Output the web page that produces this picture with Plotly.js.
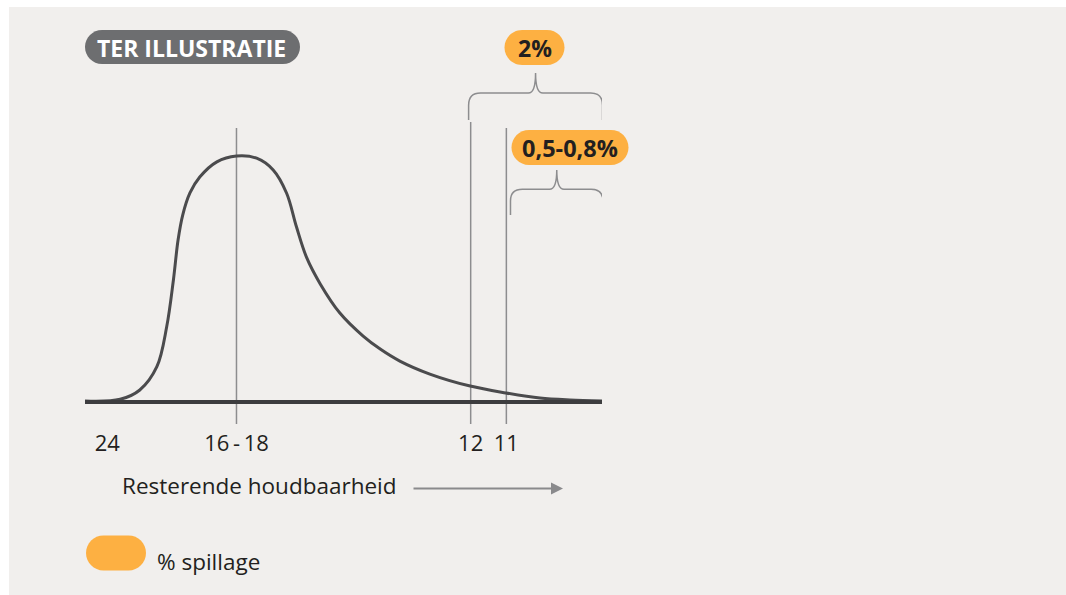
<!DOCTYPE html>
<html>
<head>
<meta charset="utf-8">
<script src="https://cdn.plot.ly/plotly-3.0.1.min.js"></script>
<style>html,body{margin:0;padding:0;background:#fff;}#chart{width:1066px;height:595px;}</style>
</head>
<body>
<div id="chart"></div>
<script>
// ---- data (illustrative distribution of remaining shelf life) ----
const curveX = [0, 6.8, 10.6, 13.9, 15.8, 17.1, 18.0, 18.9, 20.3, 22.2, 25.5, 29.3, 33.2, 36.4, 39.0, 40.9, 42.9, 45.5, 49.3, 53.8, 57.1, 60.9, 66.7, 74.5, 81.4, 88.0, 93.8, 100];
const curveY = [0, 0.7, 4.5, 14.0, 30.3, 49.4, 65.7, 75.9, 84.9, 91.4, 97.6, 100, 99.1, 94.3, 84.8, 71.1, 58.4, 47.8, 35.9, 26.5, 21.2, 16.3, 11.0, 6.1, 3.3, 1.2, 0.4, 0];
const tickPositions = [4.3, 29.3, 74.6, 81.5];
const tickLabels = ['24', '16\u2009-\u200918', '12', '11'];
const markerX = [29.3, 74.6, 81.5];
const markerTop = [111.4, 113.9, 111.4];
const spillageLabels = ['2%', '0,5-0,8%'];
const braceFrom = [74.2, 82.3];
const braceTo = [100.1, 100.2];
const titleText = 'TER ILLUSTRATIE';
const axisLabel = 'Resterende houdbaarheid';
const legendLabel = '% spillage';

// ---- layout helpers ----
const W = 1066, H = 595, L = 85, R = 464, T = 30, B = 35;
const PW = W - L - R, PH = H - T - B;
const px = p => (p - L) / PW;          // pixel x -> paper
const py = p => (H - B - p) / PH;      // pixel y -> paper

const ORANGE = '#fdb042', GREY = '#6d6e70', LINE = '#8d8d8f', TXT = '#231f20';
const FONT = '"Open Sans", "Noto Sans", sans-serif';

function pill(cxPx, cyPx, w, h, color) {
  const r = h / 2, k = 0.5523 * r, a = w / 2 - r;
  const path = `M ${-a},${-r} L ${a},${-r} C ${a + k},${-r} ${a + r},${-k} ${a + r},0 C ${a + r},${k} ${a + k},${r} ${a},${r} ` +
               `L ${-a},${r} C ${-a - k},${r} ${-a - r},${k} ${-a - r},0 C ${-a - r},${-k} ${-a - k},${-r} ${-a},${-r} Z`;
  return {type: 'path', xref: 'paper', yref: 'paper', xsizemode: 'pixel', ysizemode: 'pixel',
          xanchor: px(cxPx), yanchor: py(cyPx), path: path, fillcolor: color, line: {width: 0}, layer: 'above'};
}

// brace in data coordinates
function brace(x0, x1, yEnd, yBar, yTip) {
  const m = (x0 + x1) / 2;
  const cx = 2.3, cy = (yBar - yEnd) * 0.45;
  const p = `M ${x0},${yEnd} L ${x0},${yBar - cy} Q ${x0},${yBar} ${x0 + cx},${yBar} L ${m - 1.4},${yBar} Q ${m},${yBar} ${m},${yTip} ` +
            `Q ${m},${yBar} ${m + 1.4},${yBar} L ${x1 - cx},${yBar} Q ${x1},${yBar} ${x1},${yBar - cy} L ${x1},${yEnd}`;
  return {type: 'path', xref: 'x', yref: 'y', path: p, line: {color: LINE, width: 1.5}};
}

const shapes = [];
// panel background
shapes.push({type: 'rect', xref: 'paper', yref: 'paper', x0: px(9), x1: px(1066), y0: py(595), y1: py(7),
             fillcolor: '#f1efed', line: {width: 0}, layer: 'below'});
// marker vertical lines
markerX.forEach((x, i) => shapes.push({type: 'line', xref: 'x', yref: 'y', x0: x, x1: x, y0: -9.4, y1: markerTop[i],
                                     line: {color: LINE, width: 1.5}, layer: 'below'}));
// braces
shapes.push(brace(braceFrom[0], braceTo[0], 114.7, 125.7, 133.9));
shapes.push(brace(braceFrom[1], braceTo[1], 75.9, 86.4, 94.3));
// pills
shapes.push(pill(192.5, 47, 215, 34, GREY));
shapes.push(pill(534.5, 47.5, 60, 35, ORANGE));
shapes.push(pill(570, 147.5, 117, 35, ORANGE));
shapes.push(pill(116, 553, 60, 35, ORANGE));

const annotations = [
  {xref: 'paper', yref: 'paper', x: px(191), y: py(48), text: '<b>' + titleText + '</b>', showarrow: false,
   xanchor: 'center', yanchor: 'middle', font: {family: FONT, size: 23, color: '#ffffff'}},
  {xref: 'paper', yref: 'paper', x: px(534.5), y: py(48), text: '<b>' + spillageLabels[0] + '</b>', showarrow: false,
   xanchor: 'center', yanchor: 'middle', font: {family: FONT, size: 23, color: TXT}},
  {xref: 'paper', yref: 'paper', x: px(570), y: py(148), text: '<b>' + spillageLabels[1] + '</b>', showarrow: false,
   xanchor: 'center', yanchor: 'middle', font: {family: FONT, size: 23.5, color: TXT}},
  {xref: 'paper', yref: 'paper', x: px(120), y: py(485), text: axisLabel, showarrow: false,
   xanchor: 'left', yanchor: 'middle', font: {family: FONT, size: 22.5, color: TXT}},
  {xref: 'paper', yref: 'paper', x: px(563), y: py(488.5), ax: -151, ay: 0, text: '', showarrow: true,
   arrowhead: 2, arrowsize: 1.2, arrowwidth: 2, arrowcolor: '#8a8a8c'},
  {xref: 'paper', yref: 'paper', x: px(155), y: py(561), text: legendLabel, showarrow: false,
   xanchor: 'left', yanchor: 'middle', font: {family: FONT, size: 22.5, color: TXT}}
];

const trace = {
  x: curveX, y: curveY, type: 'scatter', mode: 'lines',
  line: {color: '#4b4b4d', width: 3, shape: 'spline', smoothing: 1},
  hoverinfo: 'skip', cliponaxis: false
};

const layout = {
  width: W, height: H,
  margin: {l: L, r: R, t: T, b: B, pad: 0},
  paper_bgcolor: '#ffffff', plot_bgcolor: 'rgba(0,0,0,0)',
  showlegend: false,
  xaxis: {range: [0, 100], anchor: 'free', position: py(401), showgrid: false, zeroline: false,
          showline: true, linecolor: '#3d3d3f', linewidth: 3.5,
          tickmode: 'array', tickvals: tickPositions, ticktext: tickLabels, ticks: '',
          ticklabelstandoff: 21, tickfont: {family: FONT, size: 22, color: TXT}, fixedrange: true},
  yaxis: {range: [(H - B - 401) / -2.45, (401 - T) / 2.45], visible: false, showgrid: false, zeroline: false, fixedrange: true},
  shapes: shapes,
  annotations: annotations,
  font: {family: FONT, color: TXT}
};

Plotly.newPlot('chart', [trace], layout, {displayModeBar: false, staticPlot: true});
</script>
</body>
</html>
